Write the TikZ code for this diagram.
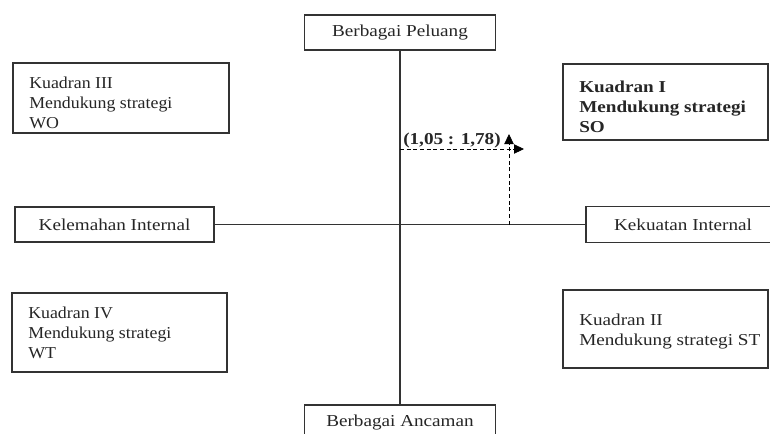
\documentclass[tikz,border=0pt]{standalone}
\usepackage{fontspec}
\setmainfont{Liberation Serif}[FakeStretch=1.15]
\newfontfamily\narrowserif{Liberation Serif}[FakeStretch=1.07]
\usetikzlibrary{arrows.meta,calc}
\begin{document}
\begin{tikzpicture}[x=0.75pt,y=-0.75pt,
  box/.style={draw=black!80, line width=0.8pt, fill=white, inner sep=0pt,
    font=\fontsize{12.5pt}{15pt}\selectfont, text=black!85},
  qtext/.style={anchor=north west, inner sep=0pt, align=left,
    font=\fontsize{12.5pt}{15pt}\selectfont, text=black!85},
  axisline/.style={draw=black!80, line width=0.8pt},
  guide/.style={draw=black, line width=0.6pt, dash pattern=on 3pt off 2pt,
    -{Triangle[length=7.5pt,width=7pt]}}]
\useasboundingbox (0,0) rectangle (770,433);

% axis boxes
\node[box, minimum width=191*0.75pt, minimum height=35*0.75pt] (peluang) at (400,32.5) {Berbagai Peluang};
\node[box, minimum width=191*0.75pt, minimum height=35*0.75pt] (ancaman) at (400,422.5) {Berbagai Ancaman};
\node[box, minimum width=199*0.75pt, minimum height=35*0.75pt] (lemah) at (114.5,224.5) {Kelemahan Internal};
\node[box, minimum width=194*0.75pt, minimum height=36*0.75pt] (kuat) at (683,224.5) {Kekuatan Internal};

% axes
\draw[axisline] (peluang.south) -- (ancaman.north);
\draw[axisline] (lemah.east) -- (kuat.west);

% quadrant boxes
\node[box, minimum width=216*0.75pt, minimum height=70*0.75pt] (q3) at (121,98) {};
\node[qtext, font=\fontsize{12.5pt}{15pt}\narrowserif] (q3t) at (29,76.5) {Kuadran III\\Mendukung strategi\\WO};
\node[box, minimum width=205*0.75pt, minimum height=76*0.75pt] (q1) at (665.5,102) {};
\node[qtext, font=\fontsize{12.5pt}{15pt}\selectfont\bfseries] (q1t) at (579,80.5) {Kuadran I\\Mendukung strategi\\SO};
\node[box, minimum width=215*0.75pt, minimum height=79*0.75pt] (q4) at (119.5,332.5) {};
\node[qtext, font=\fontsize{12.5pt}{15pt}\narrowserif] (q4t) at (28,306.5) {Kuadran IV\\Mendukung strategi\\WT};
\node[box, minimum width=205*0.75pt, minimum height=78*0.75pt] (q2) at (665.5,329) {};
\node[qtext] (q2t) at (579,314) {Kuadran II\\Mendukung strategi ST};

% position point
\coordinate (foot) at (509,224.5);
\coordinate (top) at (509,134);
\coordinate (left) at (400,149);
\coordinate (right) at (524,149);
\draw[guide] (foot) -- (top);
\draw[guide] (left) -- (right);
\node[anchor=west, inner sep=0pt, font=\fontsize{12.5pt}{15pt}\selectfont\bfseries, text=black!85] (pt) at (403,140) {(1,05 : 1,78)};
\end{tikzpicture}
\end{document}
